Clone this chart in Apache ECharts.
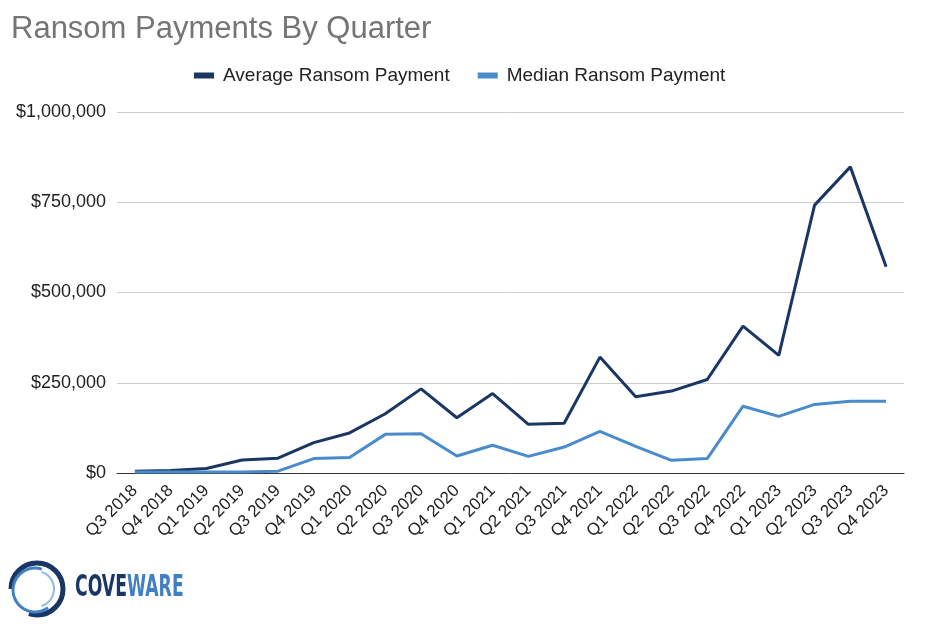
<!DOCTYPE html>
<html>
<head>
<meta charset="utf-8">
<script src="https://cdn.jsdelivr.net/npm/echarts@6/dist/echarts.min.js"></script>
<style>
  html, body { margin: 0; padding: 0; background: #fff; }
  #chart { width: 934px; height: 633px; }
</style>
</head>
<body>
<div id="chart"></div>
<script>
// quarters on the x axis
var quarters = ['Q3 2018', 'Q4 2018', 'Q1 2019', 'Q2 2019', 'Q3 2019', 'Q4 2019',
    'Q1 2020', 'Q2 2020', 'Q3 2020', 'Q4 2020', 'Q1 2021', 'Q2 2021', 'Q3 2021',
    'Q4 2021', 'Q1 2022', 'Q2 2022', 'Q3 2022', 'Q4 2022', 'Q1 2023', 'Q2 2023',
    'Q3 2023', 'Q4 2023'];
// values (USD)
var averagePayment = [5000, 7000, 12500, 36000, 41000, 84000, 111000, 164000, 233000,
    153000, 220000, 135000, 138000, 321000, 211000, 227000, 259000, 407000, 326000,
    742000, 848000, 571000];
var medianPayment = [3000, 3000, 2500, 2500, 5000, 40000, 43000, 107000, 109000,
    47000, 77000, 46000, 72000, 115000, 74000, 35000, 40000, 185000, 157000,
    190000, 199000, 199000];
var yTicks = [0, 250000, 500000, 750000, 1000000];

var chart = echarts.init(document.getElementById('chart'));
var option = {
    backgroundColor: '#ffffff',
    animation: false,
    textStyle: { fontFamily: 'Liberation Sans, Arial, sans-serif' },
    title: {
        text: 'Ransom Payments By Quarter',
        left: 6,
        top: 9,
        textStyle: { color: '#757575', fontSize: 31, fontWeight: 'normal' }
    },
    legend: {
        top: 61,
        left: 189,
        itemGap: 28,
        itemWidth: 20,
        itemHeight: 6,
        icon: 'rect',
        textStyle: { color: '#222', fontSize: 19, padding: [0, 0, 0, 4] },
        data: ['Average Ransom Payment', 'Median Ransom Payment']
    },
    grid: { left: 117, right: 30, top: 112, bottom: 160 },
    xAxis: {
        type: 'category',
        boundaryGap: true,
        data: quarters,
        axisLine: { lineStyle: { color: '#333', width: 1 } },
        axisTick: { show: false },
        axisLabel: { rotate: 45, color: '#222', fontSize: 17, margin: 15, interval: 0 }
    },
    yAxis: {
        type: 'value',
        min: 0,
        max: 1000000,
        interval: 250000,
        axisLine: { show: false },
        axisTick: { show: false },
        splitLine: { lineStyle: { color: '#cccccc' } },
        axisLabel: {
            color: '#222',
            fontSize: 18,
            margin: 11,
            formatter: function (v) {
                return yTicks.indexOf(v) >= 0 ? '$' + v.toLocaleString('en-US') : '';
            }
        }
    },
    series: [
        {
            name: 'Average Ransom Payment',
            type: 'line',
            data: averagePayment,
            showSymbol: false,
            itemStyle: { color: '#1a3664' },
            lineStyle: { color: '#1a3664', width: 3 }
        },
        {
            name: 'Median Ransom Payment',
            type: 'line',
            data: medianPayment,
            showSymbol: false,
            itemStyle: { color: '#4a8bcc' },
            lineStyle: { color: '#4a8bcc', width: 3 }
        }
    ],
    // Coveware logo, bottom left
    graphic: [
        {
            type: 'arc',
            shape: { cx: 37, cy: 589, r: 26, startAngle: Math.PI * 1.0, endAngle: Math.PI * 2.6 },
            style: { stroke: '#1a3664', lineWidth: 5, fill: null }
        },
        {
            type: 'arc',
            shape: { cx: 35, cy: 590, r: 22, startAngle: Math.PI * 0.3, endAngle: Math.PI * 1.6 },
            style: { stroke: '#3f7fc2', lineWidth: 3, fill: null }
        },
        {
            type: 'arc',
            shape: { cx: 36, cy: 589, r: 18, startAngle: Math.PI * 1.6, endAngle: Math.PI * 2.4 },
            style: { stroke: '#8fb7df', lineWidth: 2, fill: null }
        },
        {
            type: 'text',
            x: 75,
            y: 588,
            scaleX: 0.64,
            style: {
                text: '{a|COVE}{b|WARE}',
                verticalAlign: 'middle',
                font: 'bold 30px "DejaVu Sans Condensed", sans-serif',
                rich: {
                    a: { fill: '#1a3664', font: 'bold 30px "DejaVu Sans Condensed", sans-serif' },
                    b: { fill: '#3f7fc2', font: 'bold 30px "DejaVu Sans Condensed", sans-serif' }
                }
            }
        }
    ]
};
chart.setOption(option);

window.addEventListener('resize', function () {
    chart.resize();
});
</script>
</body>
</html>
